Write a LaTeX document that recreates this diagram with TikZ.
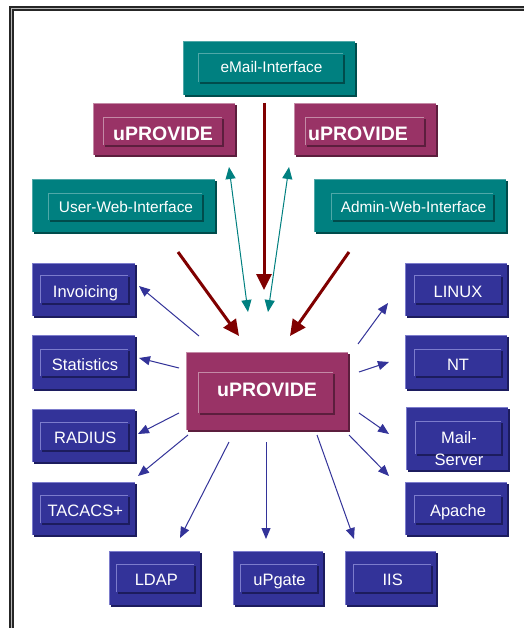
\documentclass[tikz,border=0pt]{standalone}
\usepackage{fontspec}
\setmainfont{Liberation Sans}
\usetikzlibrary{arrows.meta,fit}
\definecolor{tealmain}{HTML}{008080}
\definecolor{tealdk}{HTML}{004C4C}
\definecolor{teallt}{HTML}{4FA8A8}
\definecolor{plummain}{HTML}{993366}
\definecolor{plumdk}{HTML}{5C1E3D}
\definecolor{plumlt}{HTML}{C48AA6}
\definecolor{bluemain}{HTML}{333399}
\definecolor{bluedk}{HTML}{1C1C5E}
\definecolor{bluelt}{HTML}{7C7CCC}
\definecolor{redarrow}{HTML}{800000}
\newcommand\ubox[6]{%
  \fill[#2dk] (#3+2,#4+2) rectangle (#5,#6);
  \node[fit={(#3,#4) (#5-2,#6-2)}, inner sep=0pt, fill=#2main] (#1) {};
  \draw[#2lt, line width=1.2pt] (#3+0.6,#6-2) -- (#3+0.6,#4+0.6) -- (#5-2,#4+0.6);
}
\newcommand\uinner[5]{%
  \draw[#1dk, line width=1.6pt] (#2+2,#5) -- (#4,#5) -- (#4,#3+2);
  \draw[#1lt, line width=0.9pt] (#2,#5-1) -- (#2,#3) -- (#4-1,#3);
}
\tikzset{
  lbl/.style={anchor=base, text=white, inner sep=0pt},
  tealtxt/.style={lbl, font=\fontsize{15.4}{18}\selectfont},
  bluetxt/.style={lbl, font=\fontsize{16.5}{22}\selectfont},
  boldtxt/.style={lbl, font=\fontsize{19.5}{22}\selectfont\bfseries},
  redarr/.style={redarrow, line width=3pt, -{Triangle[length=16pt,width=15pt]}},
  tealarr/.style={tealmain, line width=1pt, {Triangle[length=12pt,width=10pt]}-{Triangle[length=12pt,width=10pt]}},
  bluearr/.style={bluemain, line width=1pt, -{Triangle[length=11pt,width=9pt]}},
}
\begin{document}
\begin{tikzpicture}[x=1pt,y=-1pt]
\useasboundingbox (0,0) rectangle (523,628);
\fill[white] (0,0) rectangle (523,628);
% frame
\draw[black!85, line width=2.2pt, double=gray!55, double distance=0.5pt] (11.5,640) -- (11.5,8.2) -- (540,8.2);
% boxes
\ubox{email}{teal}{183}{41}{357}{97}
\uinner{teal}{198}{53}{344}{83}
\node[tealtxt] (emailL) at (271.5,73) {eMail-Interface};

\ubox{upl}{plum}{93}{103}{237}{157}
\uinner{plum}{103}{117}{223}{146}
\node[boldtxt] (uplL) at (163,141) {uPROVIDE};

\ubox{upr}{plum}{294}{103}{438}{157}
\uinner{plum}{305}{117}{425}{146}
\node[boldtxt] (uprL) at (358,141) {uPROVIDE};

\ubox{userweb}{teal}{32}{179}{217}{234}
\uinner{teal}{48}{193}{203}{221}
\node[tealtxt] (userwebL) at (126,212) {User-Web-Interface};

\ubox{adminweb}{teal}{314}{179}{508}{234}
\uinner{teal}{331}{193}{494}{221}
\node[tealtxt] (adminwebL) at (413.5,212) {Admin-Web-Interface};

\ubox{invoicing}{blue}{32}{263}{137}{318}
\uinner{blue}{40}{275}{129}{304}
\node[bluetxt] (invoicingL) at (85.5,297.5) {Invoicing};

\ubox{linux}{blue}{405}{263}{509}{318}
\uinner{blue}{414}{275}{502}{304}
\node[bluetxt] (linuxL) at (458,297) {LINUX};

\ubox{statistics}{blue}{32}{335}{137}{391}
\uinner{blue}{40}{349}{129}{377}
\node[bluetxt] (statisticsL) at (85,370) {Statistics};

\ubox{nt}{blue}{405}{335}{509}{391}
\uinner{blue}{414}{349}{502}{377}
\node[bluetxt] (ntL) at (458,370) {NT};

\ubox{radius}{blue}{32}{409}{137}{464}
\uinner{blue}{40}{422}{129}{451}
\node[bluetxt] (radiusL) at (85.3,443) {RADIUS};

\ubox{mail}{blue}{406}{407}{510}{472}
\uinner{blue}{415}{421}{502}{455}
\node[bluetxt] (mailL1) at (459,443) {Mail-};
\node[bluetxt] (mailL2) at (459,465) {Server};

\ubox{tacacs}{blue}{32}{482}{137}{537}
\uinner{blue}{40}{495}{129}{524}
\node[bluetxt] (tacacsL) at (85.3,516.5) {TACACS+};

\ubox{apache}{blue}{405}{482}{509}{537}
\uinner{blue}{414}{495}{502}{524}
\node[bluetxt] (apacheL) at (458,516.5) {Apache};

\ubox{ldap}{blue}{109}{551}{202}{607}
\uinner{blue}{116}{564}{195}{593}
\node[bluetxt] (ldapL) at (156.3,585) {LDAP};

\ubox{upgate}{blue}{233}{551}{325}{607}
\uinner{blue}{240}{564}{318}{593}
\node[bluetxt] (upgateL) at (279.5,585) {uPgate};

\ubox{iis}{blue}{345}{551}{438}{607}
\uinner{blue}{353}{564}{432}{593}
\node[bluetxt] (iisL) at (392.7,585) {IIS};

\ubox{center}{plum}{186}{352}{350}{432}
\uinner{plum}{198}{372}{334}{414}
\node[boldtxt] (centerL) at (267,396) {uPROVIDE};

% arrow end points
\coordinate (rv1) at (264,103); \coordinate (rv2) at (264,290);
\coordinate (rl1) at (178,252); \coordinate (rl2) at (239,336);
\coordinate (rr1) at (349,252); \coordinate (rr2) at (290,336);
\coordinate (ta1) at (229,167); \coordinate (ta2) at (248,312);
\coordinate (tb1) at (289,167); \coordinate (tb2) at (268,312);
\coordinate (b1s) at (199,336); \coordinate (b1e) at (139,286);
\coordinate (b2s) at (358,344); \coordinate (b2e) at (388,303);
\coordinate (b3s) at (179,368); \coordinate (b3e) at (139,358);
\coordinate (b4s) at (359,372); \coordinate (b4e) at (389,362);
\coordinate (b5s) at (179,413); \coordinate (b5e) at (138,434);
\coordinate (b6s) at (359,413); \coordinate (b6e) at (389,434);
\coordinate (b7s) at (188,435); \coordinate (b7e) at (138,476);
\coordinate (b8s) at (349,435); \coordinate (b8e) at (389,476);
\coordinate (b9s) at (229,442); \coordinate (b9e) at (180,538);
\coordinate (b10s) at (266,442); \coordinate (b10e) at (266,539);
\coordinate (b11s) at (317,435); \coordinate (b11e) at (354,539);
% arrows
\draw[redarr] (rv1) -- (rv2);
\draw[redarr] (rl1) -- (rl2);
\draw[redarr] (rr1) -- (rr2);
\draw[tealarr] (ta1) -- (ta2);
\draw[tealarr] (tb1) -- (tb2);
\foreach \i in {1,...,11} {\draw[bluearr] (b\i s) -- (b\i e);}
\end{tikzpicture}
\end{document}
